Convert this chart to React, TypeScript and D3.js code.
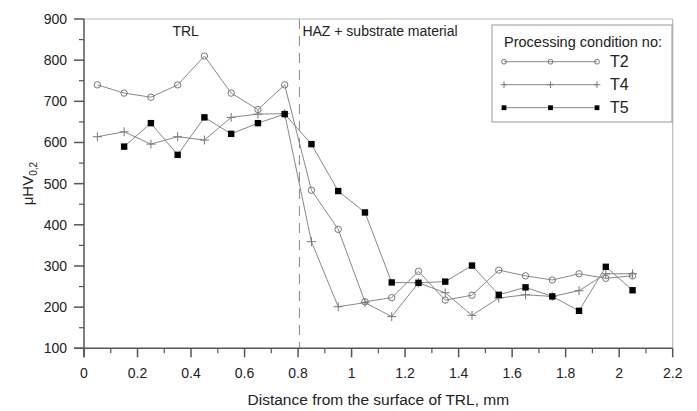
import * as d3 from 'd3';

const W = 697;
const H = 411;
const margin = { top: 19, right: 24.3, bottom: 62.7, left: 84 };
const FONT = '"Liberation Sans", Arial, sans-serif';

// distance from surface, mm
const depthT2 = [0.05, 0.15, 0.25, 0.35, 0.45, 0.55, 0.65, 0.75, 0.85, 0.95, 1.05, 1.15, 1.25, 1.35, 1.45, 1.55, 1.65, 1.75, 1.85, 1.95, 2.05];
const depthT4 = [0.05, 0.15, 0.25, 0.35, 0.45, 0.55, 0.65, 0.75, 0.85, 0.95, 1.05, 1.15, 1.25, 1.35, 1.45, 1.55, 1.65, 1.75, 1.85, 1.95, 2.05];
const depthT5 = [0.15, 0.25, 0.35, 0.45, 0.55, 0.65, 0.75, 0.85, 0.95, 1.05, 1.15, 1.25, 1.35, 1.45, 1.55, 1.65, 1.75, 1.85, 1.95, 2.05];

// microhardness µHV0,2
const hvT2 = [740, 720, 710, 740, 810, 720, 680, 740, 484, 389, 213, 223, 287, 217, 229, 290, 276, 266, 281, 270, 276];
const hvT4 = [614, 626, 596, 614, 606, 661, 669, 670, 359, 201, 211, 177, 259, 235, 180, 222, 230, 226, 240, 281, 281];
const hvT5 = [590, 647, 570, 661, 621, 647, 669, 596, 482, 430, 260, 259, 262, 301, 230, 248, 226, 191, 298, 241];

const xMajor = [0, 0.2, 0.4, 0.6, 0.8, 1, 1.2, 1.4, 1.6, 1.8, 2, 2.2];
const xMinor = [0.1, 0.3, 0.5, 0.7, 0.9, 1.1, 1.3, 1.5, 1.7, 1.9, 2.1];
const yMajor = [100, 200, 300, 400, 500, 600, 700, 800, 900];
const yMinor = [150, 250, 350, 450, 550, 650, 750, 850];

const boundaryX = 0.805;

type Pt = [number, number];

const zip = (xs: number[], ys: number[]): Pt[] => xs.map((x, i) => [x, ys[i]]);

const Marker = ({ kind, x, y, s = 1 }: { kind: string; x: number; y: number; s?: number }) => {
  if (kind === 'circle') {
    return <circle cx={x} cy={y} r={3.2 * s} fill="none" stroke="#777" strokeWidth={1} />;
  }
  if (kind === 'plus') {
    const a = 4.5 * s;
    return (
      <g stroke="#777" strokeWidth={1}>
        <line x1={x - a} x2={x + a} y1={y} y2={y} />
        <line x1={x} x2={x} y1={y - a} y2={y + a} />
      </g>
    );
  }
  const a = 3.2 * s;
  return <rect x={x - a} y={y - a} width={2 * a} height={2 * a} fill="#000" />;
};

export default function App() {
  const bw = W - margin.left - margin.right;
  const bh = H - margin.top - margin.bottom;

  const xScale = d3.scaleLinear().domain([0, 2.2]).range([0, bw]);
  const yScale = d3.scaleLinear().domain([100, 900]).range([bh, 0]);

  const line = d3.line<Pt>().x((d) => xScale(d[0])).y((d) => yScale(d[1]));

  const series = [
    { name: 'T2', kind: 'circle', pts: zip(depthT2, hvT2) },
    { name: 'T4', kind: 'plus', pts: zip(depthT4, hvT4) },
    { name: 'T5', kind: 'square', pts: zip(depthT5, hvT5) },
  ];

  const axisColor = '#555';

  return (
    <svg width={W} height={H} style={{ position: 'absolute', left: 0, top: 0, background: '#fff' }} fontFamily={FONT}>
      <g transform={`translate(${margin.left},${margin.top})`}>
        {/* frame */}
        <line x1={0} x2={bw} y1={0} y2={0} stroke="#bbb" strokeWidth={1.2} />
        <line x1={bw} x2={bw} y1={0} y2={bh} stroke="#bbb" strokeWidth={1.2} />

        {/* boundary */}
        <line
          x1={xScale(boundaryX)}
          x2={xScale(boundaryX)}
          y1={0}
          y2={bh}
          stroke="#888"
          strokeWidth={1}
          strokeDasharray="10,7"
        />
        <text x={xScale(0.38)} y={17} fontSize={14} textAnchor="middle" fill="#222">TRL</text>
        <text x={xScale(boundaryX) + 3} y={17} fontSize={14} fill="#222">HAZ + substrate material</text>

        {/* series lines */}
        {series.map((s) => (
          <path key={s.name} d={line(s.pts) || ''} fill="none" stroke="#888" strokeWidth={1} />
        ))}
        {series.map((s) =>
          s.pts.map((p, i) => (
            <Marker key={s.name + i} kind={s.kind} x={xScale(p[0])} y={yScale(p[1])} />
          ))
        )}

        {/* x axis */}
        <line x1={-10} x2={bw} y1={bh} y2={bh} stroke={axisColor} strokeWidth={1.5} />
        {xMajor.map((t) => (
          <g key={'xM' + t} transform={`translate(${xScale(t)},${bh})`}>
            <line y1={0} y2={9} stroke={axisColor} strokeWidth={1.5} />
            <text y={30} fontSize={14} textAnchor="middle" fill="#222">{t}</text>
          </g>
        ))}
        {xMinor.map((t) => (
          <line key={'xm' + t} x1={xScale(t)} x2={xScale(t)} y1={bh} y2={bh + 5} stroke={axisColor} strokeWidth={1.2} />
        ))}
        <text x={bw / 2} y={bh + 57} fontSize={15.5} textAnchor="middle" fill="#222">
          Distance from the surface of TRL, mm
        </text>

        {/* y axis */}
        <line x1={0} x2={0} y1={0} y2={bh + 9} stroke={axisColor} strokeWidth={1.5} />
        {yMajor.map((t) => (
          <g key={'yM' + t} transform={`translate(0,${yScale(t)})`}>
            <line x1={-10} x2={0} stroke={axisColor} strokeWidth={1.5} />
            <text x={-17} dy="0.35em" fontSize={14} textAnchor="end" fill="#222">{t}</text>
          </g>
        ))}
        {yMinor.map((t) => (
          <line key={'ym' + t} x1={-5} x2={0} y1={yScale(t)} y2={yScale(t)} stroke={axisColor} strokeWidth={1.2} />
        ))}
        <text
          transform={`translate(${-51},${yScale(500)}) rotate(-90)`}
          fontSize={15}
          textAnchor="middle"
          fill="#222"
        >
          μHV<tspan fontSize={10} dy={4}>0,2</tspan>
        </text>

        {/* legend */}
        <g transform={`translate(${492 - margin.left},${25 - margin.top})`}>
          <rect x={0} y={0} width={180} height={97} fill="#fff" stroke="#999" strokeWidth={1} />
          <text x={12} y={22} fontSize={14.5} fill="#222">Processing condition no:</text>
          {series.map((s, i) => {
            const cy = 36.7 + i * 23;
            return (
              <g key={'lg' + s.name}>
                <line x1={12} x2={105} y1={cy} y2={cy} stroke="#888" strokeWidth={1} />
                {[12, 58.5, 105].map((mx) => (
                  <Marker key={mx} kind={s.kind} x={mx} y={cy} s={0.75} />
                ))}
                <text x={118} y={cy} dy="0.36em" fontSize={16} fill="#222">{s.name}</text>
              </g>
            );
          })}
        </g>
      </g>
    </svg>
  );
}
